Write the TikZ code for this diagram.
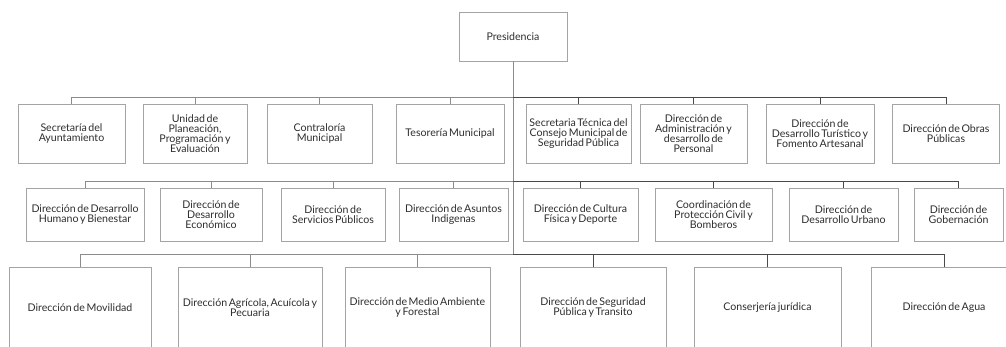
\documentclass[tikz,border=0pt]{standalone}
\usepackage{fontspec}
\setmainfont{Lato}[WordSpace=0.6]
\usepackage{tikz}
\usetikzlibrary{calc}
\definecolor{boxgray}{HTML}{A4A4A4}
\definecolor{leftgray}{HTML}{8C8C8C}
\definecolor{rightgray}{HTML}{4A4A4A}
\definecolor{textgray}{HTML}{2E2E2E}
\tikzset{
  unit/.style={draw=boxgray, line width=0.9pt, fill=white, align=center, inner sep=0pt,
    text=textgray, font=\fontsize{10.6}{10}\selectfont},
  toprow/.style={unit, minimum height=59pt},
  midrow/.style={unit, minimum height=53pt},
  lowrow/.style={unit, minimum height=82pt},
  lline/.style={draw=leftgray, line width=0.9pt},
  rline/.style={draw=rightgray, line width=0.9pt}
}

\begin{document}
\begin{tikzpicture}[x=1pt, y=-1pt]
  \useasboundingbox (0,0) rectangle (1006,347);
  \clip (0,0) rectangle (1006,347);
  \fill[white] (0,0) rectangle (1006,347);
  % head
  \node[unit, minimum width=108pt, minimum height=49pt] (pres) at (513, 36.5) {Presidencia};
  \coordinate (bus1) at (513, 97);
  \coordinate (bus2) at (513, 181);
  \coordinate (bus3) at (513, 254);
  % first level
  \node[toprow, minimum width=107pt] (sec) at (71.5, 133.5) {Secretaría del\\Ayuntamiento};
  \node[toprow, minimum width=104pt] (upe) at (195, 133.5) {Unidad de\\Planeación,\\Programación y\\Evaluación};
  \node[toprow, minimum width=105pt] (con) at (319.5, 133.5) {Contraloría\\Municipal};
  \node[toprow, minimum width=108pt] (tes) at (450, 133.5) {Tesorería Municipal};
  \node[toprow, minimum width=105pt] (stc) at (578.5, 133.5) {Secretaria Técnica del\\Consejo Municipal de\\Seguridad Pública};
  \node[toprow, minimum width=107pt] (adm) at (693.5, 133.5) {Dirección de\\Administración y\\desarrollo de\\Personal};
  \node[toprow, minimum width=108pt] (tur) at (820, 133.5) {Dirección de\\Desarrollo Turístico y\\Fomento Artesanal};
  \node[toprow, minimum width=107pt] (obr) at (946, 133.5) {Dirección de Obras\\Públicas};
  % second level
  \node[midrow, minimum width=118pt] (hum) at (85, 214.5) {Dirección de Desarrollo\\Humano y Bienestar};
  \node[midrow, minimum width=102pt] (eco) at (211, 214.5) {Dirección de\\Desarrollo\\Económico};
  \node[midrow, minimum width=104pt] (ser) at (333, 214.5) {Dirección de\\Servicios Públicos};
  \node[midrow, minimum width=109pt] (ind) at (453.5, 214.5) {Dirección de Asuntos\\Indigenas};
  \node[midrow, minimum width=115pt] (cul) at (580.5, 214.5) {Dirección de Cultura\\Física y Deporte};
  \node[midrow, minimum width=117pt] (pro) at (713.5, 214.5) {Coordinación de\\Protección Civil y\\Bomberos};
  \node[midrow, minimum width=109pt] (urb) at (843.5, 214.5) {Dirección de\\Desarrollo Urbano};
  \node[midrow, minimum width=89pt] (gob) at (958.5, 214.5) {Dirección de\\Gobernación};
  % third level
  \node[lowrow, minimum width=142pt] (mov) at (80, 308) {Dirección de Movilidad};
  \node[lowrow, minimum width=144pt] (agr) at (250, 308) {Dirección Agrícola, Acuícola y\\Pecuaria};
  \node[lowrow, minimum width=145pt] (amb) at (417.5, 308) {Dirección de Medio Ambiente\\y Forestal};
  \node[lowrow, minimum width=146pt] (seg) at (593, 308) {Dirección de Seguridad\\Pública y Transito};
  \node[lowrow, minimum width=147pt] (jur) at (767.5, 308) {Conserjería jurídica};
  \node[lowrow, minimum width=146pt] (agu) at (944, 308) {Dirección de Agua};
  % connectors, left half
  \draw[lline] (sec.north) |- (bus1);
  \draw[lline] (upe.north) -- (upe.north |- bus1);
  \draw[lline] (con.north) -- (con.north |- bus1);
  \draw[lline] (tes.north) -- (tes.north |- bus1);
  \draw[lline] (hum.north) |- (bus2);
  \draw[lline] (eco.north) -- (eco.north |- bus2);
  \draw[lline] (ser.north) -- (ser.north |- bus2);
  \draw[lline] (ind.north) -- (ind.north |- bus2);
  \draw[lline] (mov.north) |- (bus3);
  \draw[lline] (agr.north) -- (agr.north |- bus3);
  \draw[lline] (amb.north) -- (amb.north |- bus3);
  % connectors, right half
  \draw[lline] (pres.south) -- (bus3);
  \draw[rline] (obr.north) |- (bus1);
  \draw[rline] (stc.north) -- (stc.north |- bus1);
  \draw[rline] (adm.north) -- (adm.north |- bus1);
  \draw[rline] (tur.north) -- (tur.north |- bus1);
  \draw[rline] (gob.north) |- (bus2);
  \draw[rline] (cul.north) -- (cul.north |- bus2);
  \draw[rline] (pro.north) -- (pro.north |- bus2);
  \draw[rline] (urb.north) -- (urb.north |- bus2);
  \draw[rline] (agu.north) |- (bus3);
  \draw[rline] (seg.north) -- (seg.north |- bus3);
  \draw[rline] (jur.north) -- (jur.north |- bus3);
\end{tikzpicture}
\end{document}
